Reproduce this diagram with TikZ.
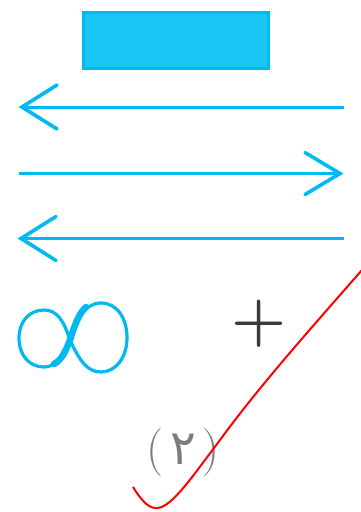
\documentclass[tikz,border=0pt]{standalone}
\usepackage{fontspec}
\newfontfamily\arabicfont[Script=Arabic]{DejaVu Sans}
\definecolor{cyanfill}{HTML}{1CC6F4}
\definecolor{cyanline}{HTML}{00B9F2}
\definecolor{darkgray}{HTML}{3A3A40}
\definecolor{midgray}{HTML}{6A6A70}
\definecolor{lightgray}{HTML}{7C7C82}
\begin{document}
\begin{tikzpicture}[x=1pt,y=-1pt,
  arrline/.style={draw=cyanline,line width=3pt},
  chevron/.style={draw=cyanline,line width=3.6pt,line cap=round,line join=miter}]
\useasboundingbox (0,0) rectangle (360,512);
\fill[white] (0,0) rectangle (360,512);
% box
\node[draw=cyanline,fill=cyanfill,line width=3pt,minimum width=185pt,minimum height=56pt,inner sep=0pt] (box) at (175.5,40.5) {};
% arrow 1 (left)
\coordinate (a1s) at (344,107);
\coordinate (a1e) at (22,107);
\draw[arrline] (a1s) -- (a1e);
\draw[chevron] ([shift={(35,-22)}]a1e) -- (a1e) -- ([shift={(35,22)}]a1e);
% arrow 2 (right)
\coordinate (a2s) at (19,173.5);
\coordinate (a2e) at (340,173.5);
\draw[arrline] (a2s) -- (a2e);
\draw[chevron] ([shift={(-35,-21)}]a2e) -- (a2e) -- ([shift={(-35,21)}]a2e);
% arrow 3 (left)
\coordinate (a3s) at (344,238.5);
\coordinate (a3e) at (21,238.5);
\draw[arrline] (a3s) -- (a3e);
\draw[chevron] ([shift={(35,-22)}]a3e) -- (a3e) -- ([shift={(35,22)}]a3e);
% infinity
\coordinate (ic) at (70,340);
\draw[cyanline,line width=3.2pt,line join=round]
  (ic) .. controls (76,322) and (84,303) .. (101,303)
  .. controls (117,303) and (127,318) .. (127,338)
  .. controls (127,357) and (116,372) .. (101,372)
  .. controls (88,372) and (80,362) .. (ic)
  .. controls (64,322) and (58,310) .. (44,310)
  .. controls (29,310) and (19,322) .. (19,338)
  .. controls (19,355) and (29,367) .. (44,367)
  .. controls (56,367) and (64,356) .. (ic);
\draw[cyanline,line width=6.5pt,line cap=round]
  (54,364) .. controls (62,360) and (66,350) .. (ic)
  .. controls (74,328) and (78,314) .. (86,307);
% plus
\node[text=darkgray,inner sep=0pt,font=\fontsize{63}{63}\selectfont\bfseries] (plus) at (259,324) {+};
% arabic label
\node[anchor=base,text=lightgray,inner sep=0pt] (lbl) at (183,464)
  {\fontsize{48}{48}\selectfont(\kern7pt{\arabicfont\fontsize{48}{48}\selectfont ٢}\kern7pt)};
% red check
\coordinate (c1) at (133,487);
\coordinate (c2) at (158,508);
\coordinate (c3) at (220,440);
\coordinate (c4) at (362,270);
\draw[red,line width=2pt] (c1) .. controls (143,503) and (150,509) .. (c2)
  .. controls (172,506) and (190,480) .. (c3)
  .. controls (260,385) and (320,318) .. (c4);
\end{tikzpicture}
\end{document}
